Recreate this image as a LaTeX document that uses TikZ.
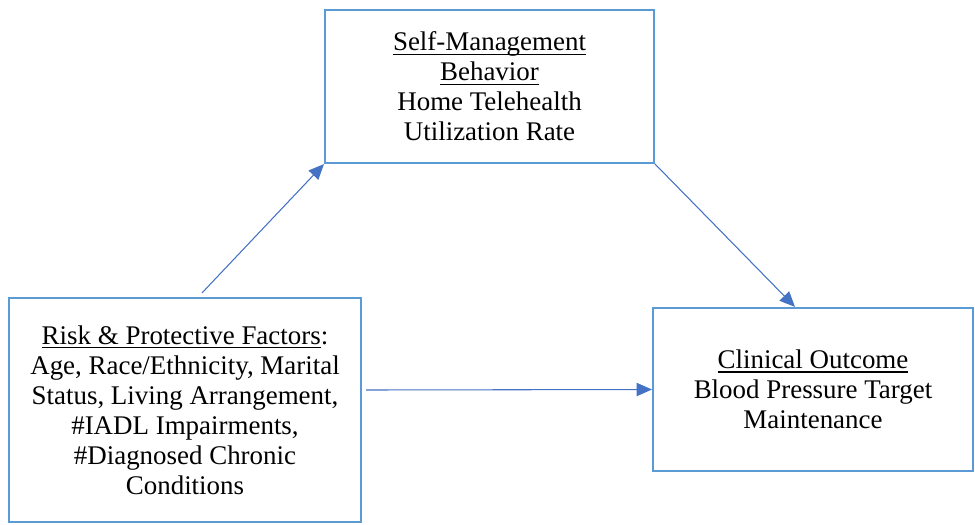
\documentclass[tikz,border=0pt]{standalone}
\usepackage{fontspec}
\setmainfont{LiberationSerif}[Extension=.ttf, UprightFont=*-Regular, BoldFont=*-Bold,
        ItalicFont=*-Italic, BoldItalicFont=*-BoldItalic]
\newcommand{\uln}[1]{\leavevmode\setbox0\hbox{#1}\rlap{\raisebox{-3.2pt}{\rule{\wd0}{1.2pt}}}\box0}
\usetikzlibrary{arrows.meta}
\definecolor{boxblue}{HTML}{5B9BD5}
\definecolor{arrowblue}{HTML}{4472C4}
\begin{document}
\begin{tikzpicture}[x=0.75pt, y=-0.75pt,
        box/.style={draw=boxblue, line width=1.6pt, rectangle, align=center, inner sep=0pt,
                font=\fontsize{20.2}{22.5}\selectfont},
        link/.style={draw=arrowblue, line width=0.8pt, -{Triangle[length=11.5pt, width=10pt]}}]
        \useasboundingbox (0,0) rectangle (975,525);
        \node[box, minimum width=329*0.75pt, minimum height=153*0.75pt] (behavior) at (489.5,86.5)
                {\uln{Self-Management}\\ \uln{Behavior}\\ Home Telehealth\\ Utilization Rate};
        \node[box, minimum width=352*0.75pt, minimum height=224*0.75pt] (factors) at (185,410)
                {\uln{Risk \& Protective Factors}:\\ Age, Race/Ethnicity, Marital\\ Status, Living Arrangement,\\
                 \#IADL Impairments,\\ \#Diagnosed Chronic\\ Conditions};
        \node[box, minimum width=320*0.75pt, minimum height=163*0.75pt] (outcome) at (813,389.5)
                {\uln{Clinical Outcome}\\ Blood Pressure Target\\ Maintenance};
        \draw[link] ([xshift=12.75pt, yshift=3pt]factors.north) -- (behavior.south west);
        \draw[link] (behavior.south east) -- ([xshift=-13.5pt]outcome.north);
        \draw[link] ([xshift=3pt, yshift=15pt]factors.east) -- (outcome.west);
\end{tikzpicture}
\end{document}
